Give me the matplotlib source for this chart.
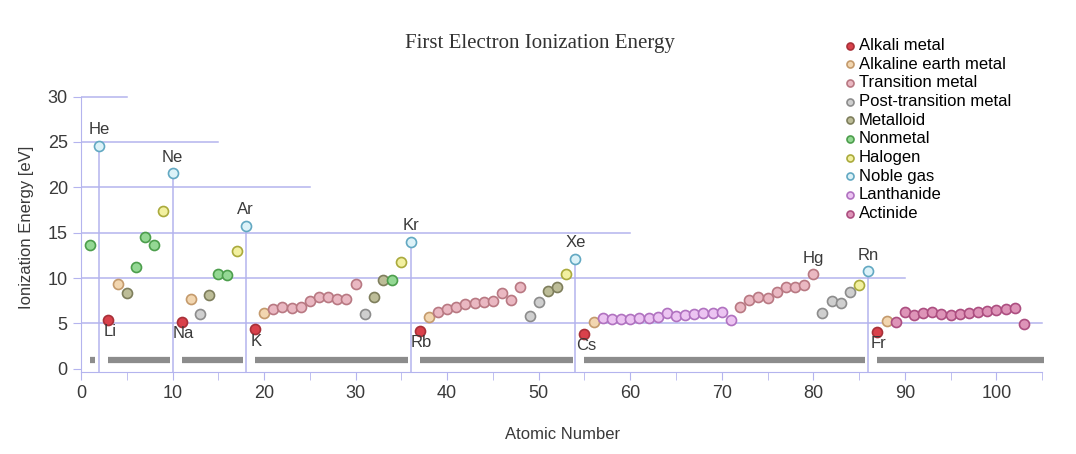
import matplotlib.pyplot as plt

# First ionization energies (eV), Z = 1..103
energies = [
    13.60, 24.59, 5.39, 9.32, 8.30, 11.26, 14.53, 13.62, 17.42, 21.56,
    5.14, 7.65, 5.99, 8.15, 10.49, 10.36, 12.97, 15.76, 4.34, 6.11,
    6.56, 6.83, 6.75, 6.77, 7.43, 7.90, 7.88, 7.64, 7.73, 9.39,
    6.00, 7.90, 9.79, 9.75, 11.81, 14.00, 4.18, 5.69, 6.22, 6.63,
    6.76, 7.09, 7.28, 7.36, 7.46, 8.34, 7.58, 8.99, 5.79, 7.34,
    8.61, 9.01, 10.45, 12.13, 3.89, 5.21, 5.58, 5.54, 5.47, 5.53,
    5.58, 5.64, 5.67, 6.15, 5.86, 5.94, 6.02, 6.11, 6.18, 6.25,
    5.43, 6.83, 7.55, 7.86, 7.83, 8.44, 8.97, 8.96, 9.23, 10.44,
    6.11, 7.42, 7.29, 8.41, 9.20, 10.75, 4.07, 5.28, 5.17, 6.31,
    5.89, 6.19, 6.27, 6.03, 5.97, 5.99, 6.20, 6.28, 6.42, 6.50,
    6.58, 6.65, 4.90,
]

# category per element
groups = (
    ['Nonmetal', 'Noble gas', 'Alkali metal', 'Alkaline earth metal', 'Metalloid',
     'Nonmetal', 'Nonmetal', 'Nonmetal', 'Halogen', 'Noble gas',
     'Alkali metal', 'Alkaline earth metal', 'Post-transition metal', 'Metalloid',
     'Nonmetal', 'Nonmetal', 'Halogen', 'Noble gas',
     'Alkali metal', 'Alkaline earth metal']
    + ['Transition metal'] * 10
    + ['Post-transition metal', 'Metalloid', 'Metalloid', 'Nonmetal', 'Halogen', 'Noble gas',
       'Alkali metal', 'Alkaline earth metal']
    + ['Transition metal'] * 10
    + ['Post-transition metal', 'Post-transition metal', 'Metalloid', 'Metalloid',
       'Halogen', 'Noble gas', 'Alkali metal', 'Alkaline earth metal']
    + ['Lanthanide'] * 15
    + ['Transition metal'] * 9
    + ['Post-transition metal'] * 4
    + ['Halogen', 'Noble gas', 'Alkali metal', 'Alkaline earth metal']
    + ['Actinide'] * 15
)

categories = ['Alkali metal', 'Alkaline earth metal', 'Transition metal',
              'Post-transition metal', 'Metalloid', 'Nonmetal', 'Halogen',
              'Noble gas', 'Lanthanide', 'Actinide']
face_colors = ['#d9414b', '#f2d6b0', '#eab8c2', '#cfcfcf', '#bdbd98',
               '#94d894', '#f2f0a0', '#dcf2f8', '#ecc4f2', '#de94b8']
edge_colors = ['#a83038', '#c49a6c', '#b87882', '#8c8c8c', '#7e7e5c',
               '#4c9e4c', '#aaaa3c', '#62a8c2', '#b072c0', '#ac4e80']

noble = [2, 10, 18, 36, 54, 86]
noble_names = ['He', 'Ne', 'Ar', 'Kr', 'Xe', 'Rn']
alkali = [3, 11, 19, 37, 55, 87]
alkali_names = ['Li', 'Na', 'K', 'Rb', 'Cs', 'Fr']

# uneven guide lines: (level, end of line)
grid_levels = [5, 10, 15, 20, 25, 30]
grid_ends = [105, 90, 60, 25, 15, 5]

# period bars near the axis
period_starts = [1, 3, 11, 19, 37, 55, 87]
period_ends = [1.5, 9.7, 17.7, 35.7, 53.7, 85.7, 106]

lav = '#b4b4ee'
txt = '#3a3a3a'
plt.rcParams['font.family'] = ['Liberation Sans', 'DejaVu Sans']
z = list(range(1, len(energies) + 1))

fig = plt.figure(figsize=(10.76, 4.54), dpi=100)
ax = fig.add_axes([81 / 1076, 1 - 372 / 454, 963 / 1076, 290 / 454])

for lvl, end in zip(grid_levels, grid_ends):
    ax.plot([0, end], [lvl, lvl], color=lav, lw=1.1, zorder=1)

for n in noble:
    ax.plot([n, n], [-0.4, energies[n - 1]], color=lav, lw=1.1, zorder=1)

for s, e in zip(period_starts, period_ends):
    ax.plot([s, e], [1, 1], color='#8c8c8c', lw=4.5, solid_capstyle='butt', zorder=2)

for cat, fc, ec in zip(categories, face_colors, edge_colors):
    xs = [zi for zi, g in zip(z, groups) if g == cat]
    ys = [energies[zi - 1] for zi in xs]
    ax.scatter(xs, ys, s=52, facecolor=fc, edgecolor=ec, linewidth=1.2,
               label=cat, zorder=3)

for n, name in zip(noble, noble_names):
    ax.annotate(name, (n, energies[n - 1]), xytext=(0, 6), textcoords='offset points',
                ha='center', va='bottom', fontsize=12, color=txt)
for n, name in zip(alkali, alkali_names):
    ax.annotate(name, (n, energies[n - 1]), xytext=(1, -3), textcoords='offset points',
                ha='center', va='top', fontsize=12, color=txt)
ax.annotate('Hg', (80, energies[79]), xytext=(0, 6), textcoords='offset points',
            ha='center', va='bottom', fontsize=12, color=txt)

ax.set_xlim(0, 105.2)
ax.set_ylim(-0.35, 31.6)
ax.set_xticks(range(0, 101, 10))
ax.set_xticks(range(5, 106, 10), minor=True)
ax.set_yticks(range(0, 31, 5))

for side in ['top', 'right']:
    ax.spines[side].set_visible(False)
ax.spines['left'].set_color(lav)
ax.spines['left'].set_bounds(-0.35, 30)
ax.spines['bottom'].set_color(lav)
ax.spines['bottom'].set_bounds(0, 105)
ax.tick_params(which='both', colors=lav, labelcolor=txt, labelsize=13, length=6)
ax.tick_params(axis='x', which='minor', length=6)

ax.set_xlabel('Atomic Number', fontsize=12, color=txt, labelpad=18)
ax.set_ylabel('Ionization Energy [eV]', fontsize=12, color=txt, labelpad=10)

fig.text(0.502, 0.905, 'First Electron Ionization Energy', ha='center', va='center',
         fontsize=15, family='Liberation Serif', color='#333333')

leg = ax.legend(loc='upper left', bbox_to_anchor=(0.78, 1.18), frameon=False,
                fontsize=12, handletextpad=0.0, labelspacing=0.22, borderpad=0,
                handlelength=1.1, markerscale=0.7)

fig.savefig('out.png', dpi=100)
